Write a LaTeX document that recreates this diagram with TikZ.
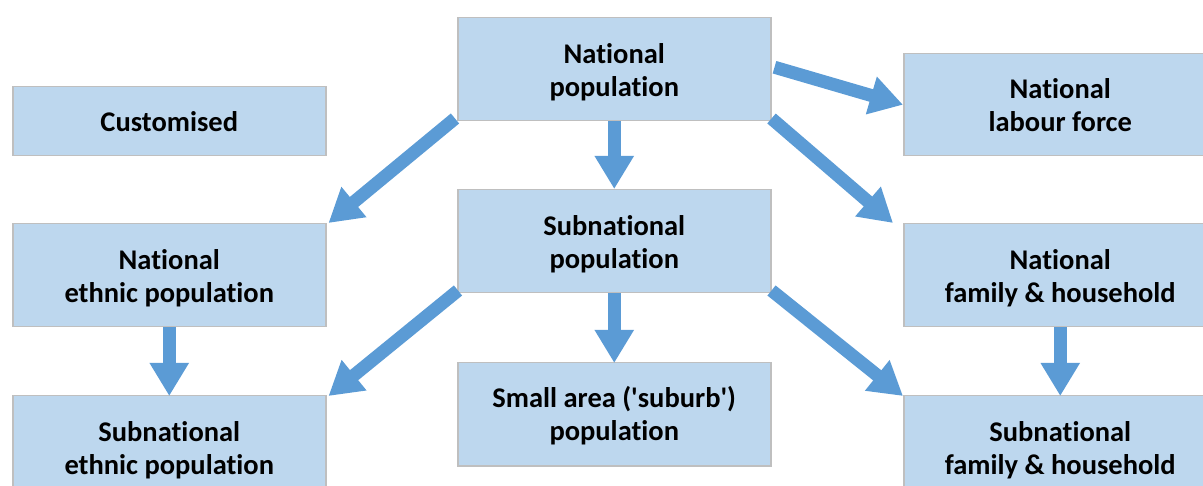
\documentclass[tikz,border=0pt]{standalone}
\usepackage{fontspec}
\setmainfont{Carlito}[Ligatures={NoCommon}]
\usetikzlibrary{arrows.meta}
\definecolor{boxfill}{HTML}{BDD7EE}
\definecolor{boxline}{HTML}{BFBFBF}
\definecolor{arrowblue}{HTML}{5B9BD5}
\tikzset{
  box/.style={draw=boxline, line width=1.5pt, fill=boxfill, anchor=north west,
    minimum width=313pt, minimum height=103pt, inner sep=0pt},
  lbl/.style={inner sep=0pt, align=center,
    font=\fontsize{28.5pt}{33pt}\selectfont\bfseries},
  txt/.style 2 args={label={[lbl, yshift=#1]center:{#2}}},
  flow/.style={draw=arrowblue, line width=13pt,
    -{Triangle[width=37pt,length=33pt]}}
}
\begin{document}
\begin{tikzpicture}[x=1pt,y=-1pt]
\useasboundingbox (0,0) rectangle (1203,486);
\clip (0,0) rectangle (1203,486);
\node[box, txt={-3pt}{National\\population}] (np) at (457,17) {};
\node[box, minimum height=69pt, txt={0pt}{Customised}] (cu) at (12,86) {};
\node[box, minimum height=102pt, txt={0pt}{National\\labour force}] (lf) at (903,53) {};
\node[box, txt={-3pt}{National\\ethnic population}] (ne) at (12,223) {};
\node[box, txt={-3pt}{Subnational\\population}] (sp) at (457,189) {};
\node[box, txt={-3pt}{National\\family \& household}] (nf) at (903,223) {};
\node[box, txt={-3pt}{Subnational\\ethnic population}] (se) at (12,395) {};
\node[box, txt={-1pt}{Small area (\textquotesingle suburb\textquotesingle)\\population}] (sa) at (457,362) {};
\node[box, txt={-3pt}{Subnational\\family \& household}] (sf) at (903,395) {};

\draw[flow] (np.south) -- (sp.north);
\draw[flow] ([xshift=-2pt,yshift=3pt]np.south west) -- ([xshift=2pt]ne.north east);
\draw[flow] ([xshift=3pt,yshift=2pt]np.east) -- (lf.west);
\draw[flow] ([yshift=3pt]np.south east) -- ([xshift=-10pt]nf.north west);
\draw[flow] ([xshift=1pt,yshift=3pt]sp.south west) -- ([xshift=2pt,yshift=-1pt]se.north east);
\draw[flow] (sp.south) -- ([yshift=-1pt]sa.north);
\draw[flow] ([yshift=3pt]sp.south east) -- ([yshift=-1pt]sf.north west);
\draw[flow] (ne.south) -- ([yshift=-1pt]se.north);
\draw[flow] (nf.south) -- ([yshift=-1pt]sf.north);
\end{tikzpicture}
\end{document}
